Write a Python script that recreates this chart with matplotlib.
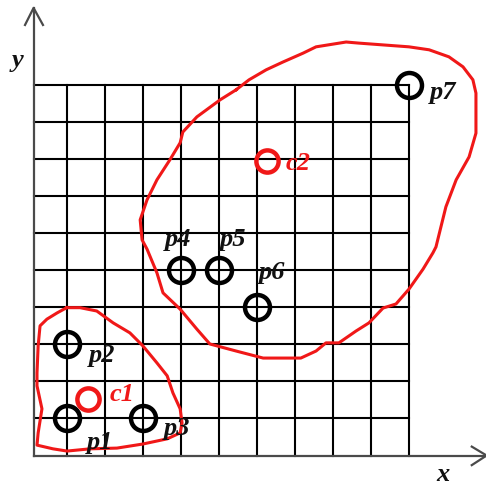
import matplotlib.pyplot as plt

# ==========================================
# DATA (grid units)
# ==========================================

titik_x = [1, 1, 3, 4, 5, 6, 10]
titik_y = [1, 3, 1, 5, 5, 4, 10]
titik_label = ['p1', 'p2', 'p3', 'p4', 'p5', 'p6', 'p7']

pusat_x = [1.57, 6.26]
pusat_y = [1.53, 7.95]
pusat_label = ['c1', 'c2']

# batas klaster 1 (garis merah kiri bawah)
klaster1_x = [1.00, 1.35, 1.79, 2.22, 2.66, 3.00, 3.37, 3.64, 3.79, 3.98,
              4.03, 3.98, 3.64, 3.00, 2.32, 1.61, 1.01, 0.64, 0.22, 0.25,
              0.35, 0.22, 0.22, 0.25, 0.30, 0.48, 0.75]
klaster1_y = [3.99, 3.99, 3.90, 3.58, 3.31, 2.96, 2.50, 2.15, 1.69, 1.26,
              0.88, 0.61, 0.45, 0.31, 0.20, 0.18, 0.12, 0.18, 0.28, 0.61,
              1.26, 1.88, 2.23, 2.96, 3.50, 3.68, 3.85]

# batas klaster 2 (garis merah besar)
klaster2_x = [5.45, 5.79, 6.24, 6.68, 7.21, 7.55, 8.34, 8.68, 9.99, 10.52,
              11.04, 11.41, 11.67, 11.75, 11.75, 11.57, 11.23, 10.96, 10.70,
              10.62, 10.36, 9.99, 9.65, 9.31, 8.94, 8.60, 8.15, 7.81, 7.55,
              7.15, 6.16, 5.45, 4.76, 4.42, 3.98, 3.53, 3.37, 3.11, 2.98,
              2.93, 3.11, 3.37, 3.71, 3.98, 4.05, 4.42, 5.03]
klaster2_y = [9.87, 10.14, 10.41, 10.62, 10.86, 11.03, 11.16, 11.13, 11.03,
              10.95, 10.76, 10.49, 10.14, 9.78, 8.70, 8.06, 7.44, 6.71, 5.63,
              5.47, 5.03, 4.49, 4.09, 3.98, 3.58, 3.36, 3.04, 3.04, 2.82,
              2.63, 2.63, 2.82, 3.01, 3.41, 3.95, 4.39, 4.93, 5.57, 5.82,
              6.36, 6.90, 7.44, 7.98, 8.44, 8.73, 9.14, 9.60]

# ==========================================
# LAYOUT
# ==========================================

n_grid = 10
sumbu_x0 = 0.13

offset_titik = [(0.87, -0.66), (0.92, -0.31), (0.90, -0.26), (-0.08, 0.82),
                (0.37, 0.82), (0.39, 0.93), (0.89, -0.19)]
offset_pusat = [(0.88, 0.13), (0.82, -0.06)]

font_label = dict(family='Liberation Serif', weight='bold', style='italic',
                  fontsize=19, ha='center', va='center')

fig = plt.figure(figsize=(4.86, 4.87), dpi=100)
ax = fig.add_axes([0, 0, 1, 1])
ax.set_xlim(-0.752, 12.014)
ax.set_ylim(-0.850, 12.294)
ax.axis('off')

# grid
for i in range(1, n_grid + 1):
    ax.plot([i, i], [0, n_grid], color='black', lw=1.5, zorder=1)
    ax.plot([sumbu_x0, n_grid], [i, i], color='black', lw=1.5, zorder=1)

# sumbu dengan panah terbuka
abu = '#4a4a4a'
ax.plot([sumbu_x0, sumbu_x0], [0, 12.08], color=abu, lw=1.6, zorder=2)
ax.plot([-0.095, sumbu_x0, 0.377], [11.62, 12.08, 11.62], color=abu, lw=1.6,
        zorder=2, clip_on=False)
ax.plot([sumbu_x0, 12.03], [0, 0], color=abu, lw=1.6, zorder=2, clip_on=False)
ax.plot([11.64, 12.03, 11.64], [0.24, 0, -0.26], color=abu, lw=1.6,
        zorder=2, clip_on=False)

ax.text(-0.28, 10.67, 'y', color='#111', **font_label)
ax.text(10.885, -0.52, 'x', color='#111', **font_label)

# garis klaster
ax.plot(klaster1_x + klaster1_x[:1], klaster1_y + klaster1_y[:1],
        color='#f01818', lw=2.2, zorder=3)
ax.plot(klaster2_x + klaster2_x[:1], klaster2_y + klaster2_y[:1],
        color='#f01818', lw=2.2, zorder=3)

# titik data
ax.plot(titik_x, titik_y, 'o', ms=18, mfc='none', mec='black', mew=3.2,
        zorder=4)
for x, y, lab, (dx, dy) in zip(titik_x, titik_y, titik_label, offset_titik):
    ax.text(x + dx, y + dy, lab, color='#111', zorder=5, **font_label)

# pusat klaster
ax.plot(pusat_x, pusat_y, 'o', ms=16, mfc='none', mec='#f01818', mew=3.2,
        zorder=4)
for x, y, lab, (dx, dy) in zip(pusat_x, pusat_y, pusat_label, offset_pusat):
    ax.text(x + dx, y + dy, lab, color='#f01818', zorder=5, **font_label)

plt.savefig('out.png', dpi=100)
